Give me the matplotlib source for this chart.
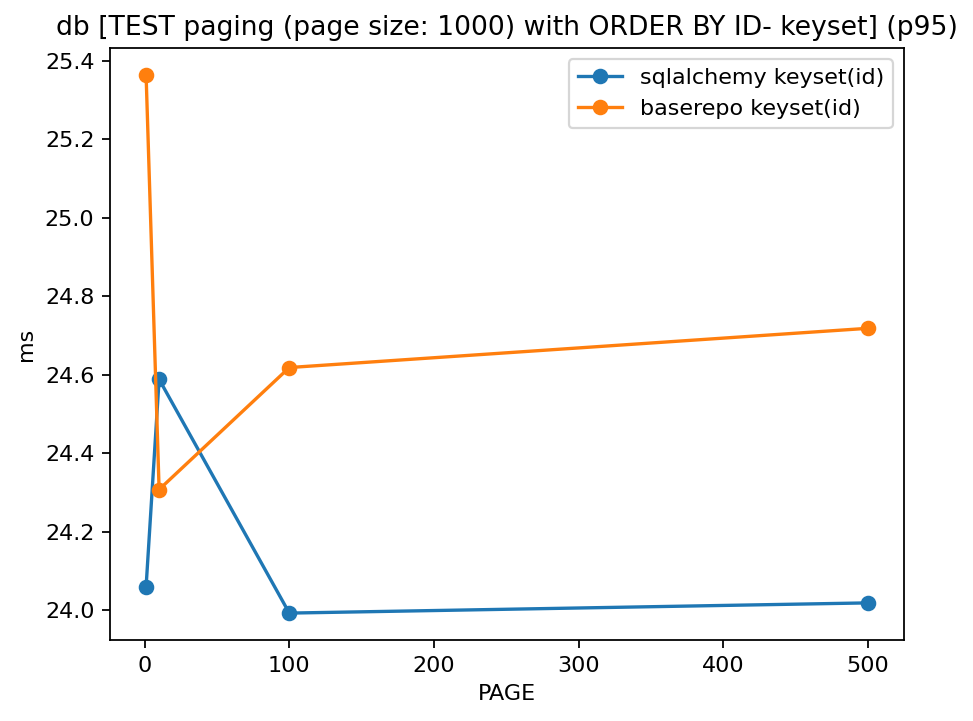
import matplotlib
matplotlib.use("Agg")
import matplotlib.pyplot as plt

pages = [1, 10, 100, 500]
sqlalchemy_ms = [24.059, 24.588, 23.992, 24.018]
baserepo_ms = [25.364, 24.307, 24.618, 24.718]

dpi = 160
fig = plt.figure(figsize=(973 / dpi, 721 / dpi), dpi=dpi)
ax = fig.add_axes([110 / 973, 81 / 721, 794 / 973, 592 / 721])

ax.plot(pages, sqlalchemy_ms, marker="o", label="sqlalchemy keyset(id)")
ax.plot(pages, baserepo_ms, marker="o", label="baserepo keyset(id)")

ax.set_title("db [TEST paging (page size: 1000) with ORDER BY ID- keyset] (p95)")
ax.set_xlabel("PAGE")
ax.set_ylabel("ms")
ax.legend()

fig.savefig("out.png", dpi=dpi)
